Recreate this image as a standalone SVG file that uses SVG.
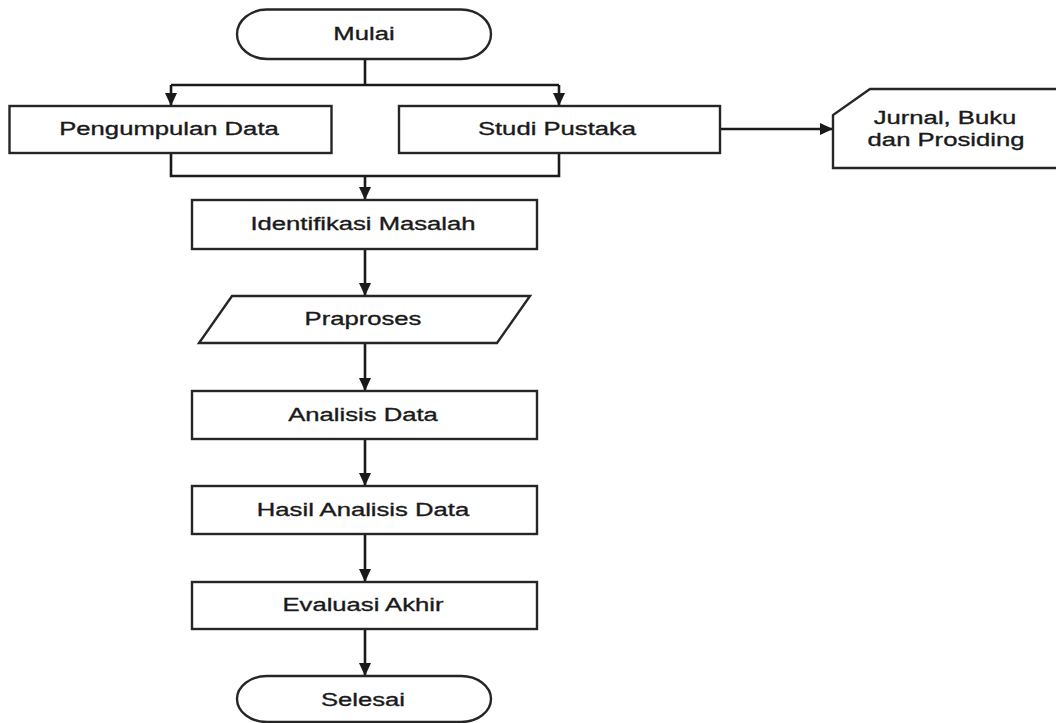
<svg xmlns="http://www.w3.org/2000/svg" width="1056" height="723" viewBox="0 0 1056 723">
<defs>
<marker id="ah" viewBox="0 0 13 12" refX="13" refY="6" markerWidth="13" markerHeight="12" markerUnits="userSpaceOnUse" orient="auto">
<path d="M0,0 L13,6 L0,12 z" fill="#1a1a1a"/>
</marker>
</defs>
<style>
.shape{fill:#fff;stroke:#262626;stroke-width:2.4}
.line{fill:none;stroke:#1a1a1a;stroke-width:2.6}
.arr{fill:none;stroke:#1a1a1a;stroke-width:2.6;marker-end:url(#ah)}
text{font-family:"Liberation Sans",Arial,sans-serif;font-size:19px;fill:#1a1a1a;stroke:#1a1a1a;stroke-width:0.35;text-anchor:middle}
</style>
<rect width="1056" height="723" fill="#fff"/>
<g id="connectors">
<path class="line" d="M365,59 V85 M171,85 H559"/>
<path class="arr" d="M171,85 V106"/>
<path class="arr" d="M559,85 V106"/>
<path class="line" d="M171,153 V176 H559 V153"/>
<path class="arr" d="M365,176 V200"/>
<path class="arr" d="M720,129 H833"/>
<path class="arr" d="M365,249 V296"/>
<path class="arr" d="M365,343 V391"/>
<path class="arr" d="M365,439 V486"/>
<path class="arr" d="M365,534 V582"/>
<path class="arr" d="M365,629 V676"/>
</g>
<g id="mulai">
<rect class="shape" x="237" y="9.5" width="254" height="49.5" rx="30" ry="24.75"/>
<text transform="translate(364,40) scale(1.35,1)">Mulai</text>
</g>
<g id="pengumpulan">
<rect class="shape" x="9.5" y="106" width="322" height="47"/>
<text transform="translate(169,135) scale(1.35,1)">Pengumpulan Data</text>
</g>
<g id="studi">
<rect class="shape" x="399" y="106" width="321" height="47"/>
<text transform="translate(557,135) scale(1.35,1)">Studi Pustaka</text>
</g>
<g id="jurnal">
<polygon class="shape" points="870,89 1062,89 1062,168 833,168 833,115"/>
<text transform="translate(945,124) scale(1.35,1)">Jurnal, Buku</text>
<text transform="translate(946,146) scale(1.35,1)">dan Prosiding</text>
</g>
<g id="identifikasi">
<rect class="shape" x="192" y="200" width="345" height="49"/>
<text transform="translate(363,230) scale(1.35,1)">Identifikasi Masalah</text>
</g>
<g id="praproses">
<polygon class="shape" points="232,296 530,296 497,343 199,343"/>
<text transform="translate(363,325) scale(1.35,1)">Praproses</text>
</g>
<g id="analisis">
<rect class="shape" x="192" y="391" width="345" height="48"/>
<text transform="translate(363,421) scale(1.35,1)">Analisis Data</text>
</g>
<g id="hasil">
<rect class="shape" x="192" y="486" width="345" height="48"/>
<text transform="translate(363,516) scale(1.35,1)">Hasil Analisis Data</text>
</g>
<g id="evaluasi">
<rect class="shape" x="192" y="582" width="345" height="47"/>
<text transform="translate(363,611) scale(1.35,1)">Evaluasi Akhir</text>
</g>
<g id="selesai">
<rect class="shape" x="237" y="676" width="254" height="46" rx="30" ry="23"/>
<text transform="translate(363,706) scale(1.35,1)">Selesai</text>
</g>
</svg>
